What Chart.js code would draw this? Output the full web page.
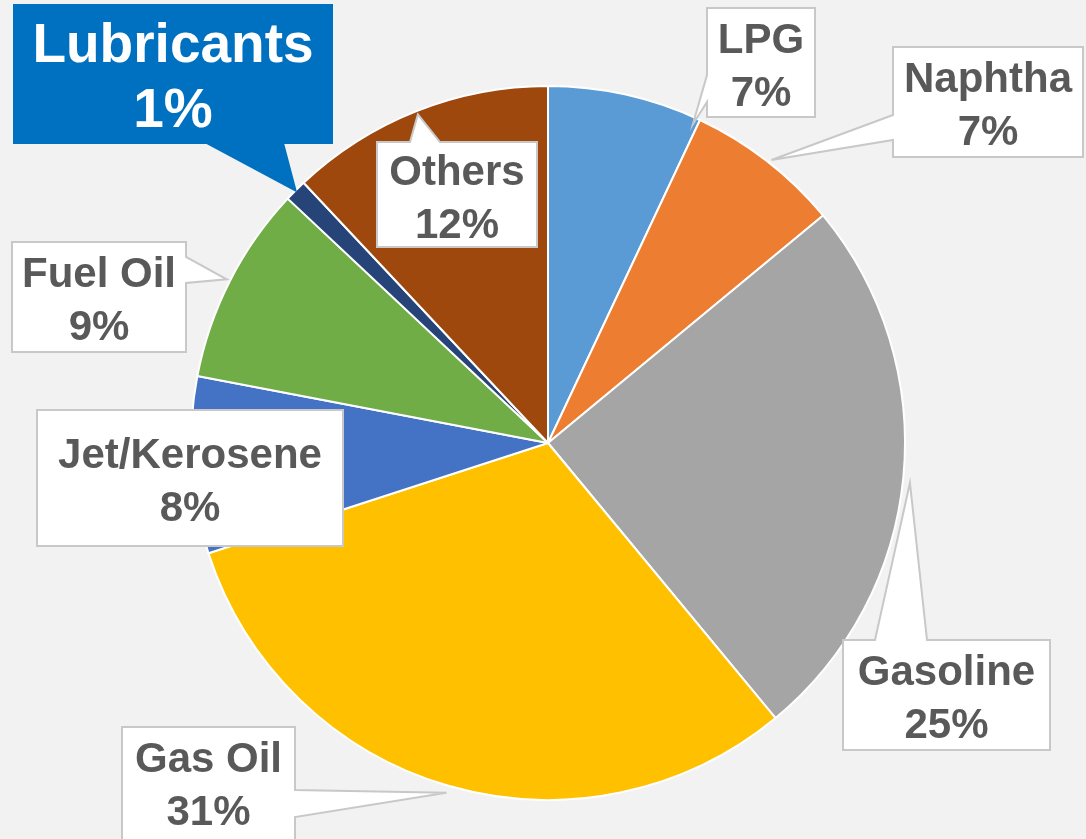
<!DOCTYPE html>
<html>
<head>
<meta charset="utf-8">
<script src="https://cdn.jsdelivr.net/npm/chart.js@4"></script>
<style>
  html, body { margin: 0; padding: 0; background: #f2f2f2; overflow: hidden; }
  canvas { display: block; }
</style>
</head>
<body>
<canvas id="pie" width="1086" height="839"></canvas>
<script>
const categories = ["LPG", "Naphtha", "Gasoline", "Gas Oil", "Jet/Kerosene", "Fuel Oil", "Lubricants", "Others"];
const shares = [7, 7, 25, 31, 8, 9, 1, 12];
const sliceColors = ["#5b9bd5", "#ed7d31", "#a5a5a5", "#ffc000", "#4472c4", "#70ad47", "#264478", "#9e480e"];

// callout boxes [left, top, right, bottom]; pointer leaves box on `side` between base[0]..base[1];
// tip = [fraction along slice angle, fraction of radius]
const callouts = [
    { box: [707, 8, 815, 117], side: "left", base: [75, 102], tip: [0.97, 0.98] },
    { box: [893, 47, 1083, 157], side: "left", base: [115, 140], tip: [0.52, 1.01] },
    { box: [843, 640, 1050, 750], side: "top", base: [875, 927], tip: [0.51, 1.02] },
    { box: [122, 727, 295, 848], side: "right", base: [790, 817], tip: [0.5, 1.02], mid: 782 },
    { box: [37, 410, 343, 546], side: "none" },
    { box: [12, 242, 186, 352], side: "right", base: [257, 283], tip: [0.5, 1.01] },
    { box: [14, 5, 332, 143], side: "bottom", base: [207, 283], tip: [0.5, 1.0],
      fill: "#0070c0", stroke: "#0070c0", text: "#ffffff", size: 55, lines: [-12, 53] },
    { box: [377, 142, 537, 247], side: "top", base: [410, 440], tip: [0.5, 0.99] }
];

function calloutPath(ctx, c, tx, ty) {
    const [l, t, r, b] = c.box;
    const [p, q] = c.base || [0, 0];
    ctx.beginPath();
    ctx.moveTo(l, t);
    if (c.side === "top") { ctx.lineTo(p, t); ctx.lineTo(tx, ty); ctx.lineTo(q, t); }
    ctx.lineTo(r, t);
    if (c.side === "right") { ctx.lineTo(r, p); ctx.lineTo(tx, ty); ctx.lineTo(r, q); }
    ctx.lineTo(r, b);
    if (c.side === "bottom") { ctx.lineTo(q, b); ctx.lineTo(tx, ty); ctx.lineTo(p, b); }
    ctx.lineTo(l, b);
    if (c.side === "left") { ctx.lineTo(l, q); ctx.lineTo(tx, ty); ctx.lineTo(l, p); }
    ctx.closePath();
}

const calloutPlugin = {
    id: "callouts",
    afterDatasetsDraw(chart) {
        const ctx = chart.ctx;
        const arcs = chart.getDatasetMeta(0).data;
        arcs.forEach((arc, i) => {
            const c = callouts[i];
            let tx = 0, ty = 0;
            if (c.tip) {
                const p = arc.getProps(["x", "y", "startAngle", "endAngle", "outerRadius"], true);
                const a = p.startAngle + c.tip[0] * (p.endAngle - p.startAngle);
                tx = p.x + Math.cos(a) * p.outerRadius * c.tip[1];
                ty = p.y + Math.sin(a) * p.outerRadius * c.tip[1];
            }

            ctx.save();
            calloutPath(ctx, c, tx, ty);
            ctx.fillStyle = c.fill || "#ffffff";
            ctx.fill();
            ctx.lineWidth = 2;
            ctx.strokeStyle = c.stroke || "#c8c8c8";
            ctx.stroke();

            const size = c.size || 42;
            const lines = c.lines || [-10, 43];
            const cx = (c.box[0] + c.box[2]) / 2;
            const cy = c.mid || (c.box[1] + c.box[3]) / 2;
            ctx.font = "bold " + size + "px 'Liberation Sans', Arial, sans-serif";
            ctx.fillStyle = c.text || "#595959";
            ctx.textAlign = "center";
            ctx.textBaseline = "alphabetic";
            ctx.fillText(categories[i], cx, cy + lines[0]);
            ctx.fillText(shares[i] + "%", cx, cy + lines[1]);
            ctx.restore();
        });
    }
};

new Chart(document.getElementById("pie"), {
    type: "pie",
    data: {
        labels: categories,
        datasets: [{
            data: shares,
            backgroundColor: sliceColors,
            borderColor: "#ffffff",
            borderWidth: 2
        }]
    },
    options: {
        responsive: false,
        animation: false,
        devicePixelRatio: 1,
        layout: { padding: { left: 190, right: 180, top: 85, bottom: 38 } },
        plugins: {
            legend: { display: false },
            tooltip: { enabled: false }
        }
    },
    plugins: [calloutPlugin]
});
</script>
</body>
</html>
